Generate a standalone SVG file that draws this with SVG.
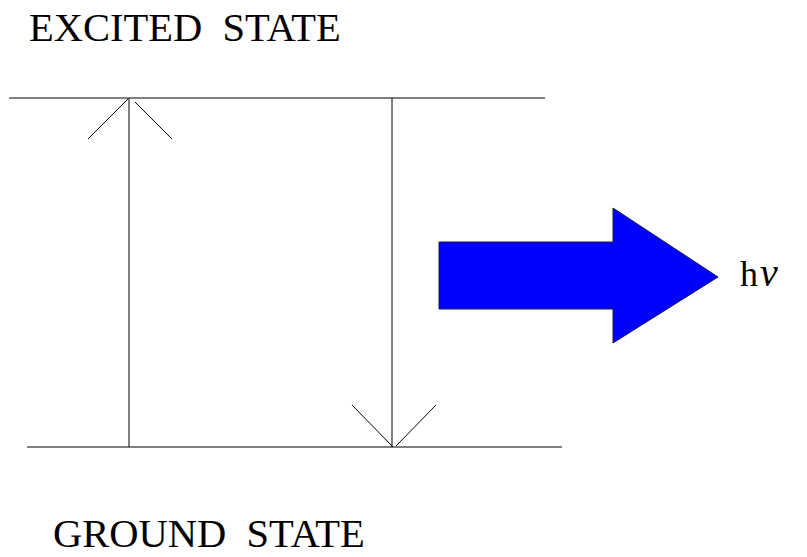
<svg xmlns="http://www.w3.org/2000/svg" width="807" height="557" viewBox="0 0 807 557">
<style>
.ln{stroke:#000;stroke-width:1;fill:none}
.lbl{font-family:"Liberation Serif","Times New Roman",serif;font-size:40.5px;fill:#000;white-space:pre}
</style>
<rect width="807" height="557" fill="#fff"/>
<g id="excited-level"><line class="ln" x1="9" y1="98" x2="545" y2="98"/></g>
<g id="ground-level"><line class="ln" x1="27" y1="447" x2="562" y2="447"/></g>
<g id="connectors">
<g id="absorption">
<line class="ln" x1="129" y1="98" x2="129" y2="447"/>
<line class="ln" x1="88" y1="139" x2="128" y2="99"/>
<line class="ln" x1="135" y1="102" x2="172" y2="139"/>
</g>
<g id="emission">
<line class="ln" x1="392" y1="98" x2="392" y2="447"/>
<line class="ln" x1="352" y1="405" x2="393" y2="447"/>
<line class="ln" x1="436" y1="405" x2="396" y2="446"/>
</g>
</g>
<g id="photon-arrow">
<polygon points="439,242 613,242 613,208 718,277 613,343 613,309 439,309" fill="#0000ff" stroke="#1a1a40" stroke-width="1"/>
</g>
<g id="label-excited"><text class="lbl" x="29" y="41">EXCITED  STATE</text></g>
<g id="label-ground"><text class="lbl" x="53" y="547">GROUND  STATE</text></g>
<g id="label-hv"><text x="740" y="286" font-family="Liberation Serif,'Times New Roman',serif" font-size="36" fill="#000">h<tspan font-style="italic" dx="2" font-size="40">ν</tspan></text></g>
</svg>
